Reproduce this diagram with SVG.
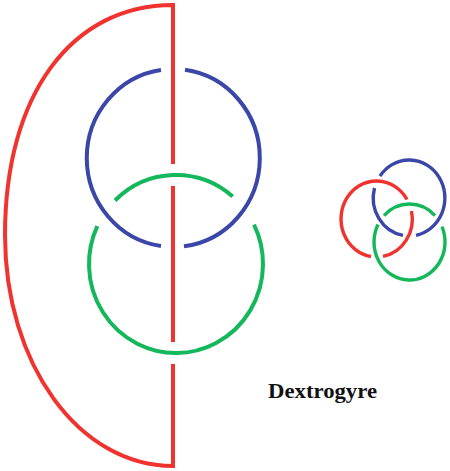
<svg xmlns="http://www.w3.org/2000/svg" width="450" height="471" viewBox="0 0 450 471">
  <style>
    .k { fill: none; stroke-linecap: butt; stroke-linejoin: miter; }
    .big { stroke-width: 4; }
    .small { stroke-width: 3.4; }
    .r { stroke: #f1332f; }
    .b { stroke: #3a47a8; }
    .g { stroke: #14b85a; }
    .label { font-family: "Liberation Serif", "Times New Roman", serif; font-weight: bold; font-size: 20px; fill: #111; }
  </style>
  <rect width="450" height="471" fill="#ffffff"/>
  <g id="large-knot">
    <g id="large-red">
      <path class="k big r" d="M173 364V466C79 466 5 364 5 235C5 94 72 5 173 5V164"/>
      <path class="k big r" d="M173 186V342"/>
    </g>
    <g id="large-blue">
      <path class="k big b" d="M161 69.9A86.5 89 0 0 0 161 246.1"/>
      <path class="k big b" d="M185 69.8A86.5 89 0 0 1 184 246.3"/>
    </g>
    <g id="large-green">
      <path class="k big g" d="M115 200.5A87 89 0 0 1 232.7 196.5"/>
      <path class="k big g" d="M97.3 226.1A87 89 0 1 0 254 224.6"/>
    </g>
  </g>
  <g id="small-knot">
    <g id="small-red">
      <path class="k small r" d="M371 256.5A35.5 38 0 1 1 407 199.5"/>
      <path class="k small r" d="M411.5 211A35.5 38 0 0 1 383 256.4"/>
    </g>
    <g id="small-blue">
      <path class="k small b" d="M380 176.1A35.7 38 0 1 1 416 235.3"/>
      <path class="k small b" d="M374.5 188A35.7 38 0 0 0 403 235.4"/>
    </g>
    <g id="small-green">
      <path class="k small g" d="M384 215.6A35.5 38 0 0 1 435 215.6"/>
      <path class="k small g" d="M378 224.5A35.5 38 0 1 0 442 226.7"/>
    </g>
  </g>
  <text class="label" x="268" y="398" textLength="109" lengthAdjust="spacingAndGlyphs">Dextrogyre</text>
</svg>
